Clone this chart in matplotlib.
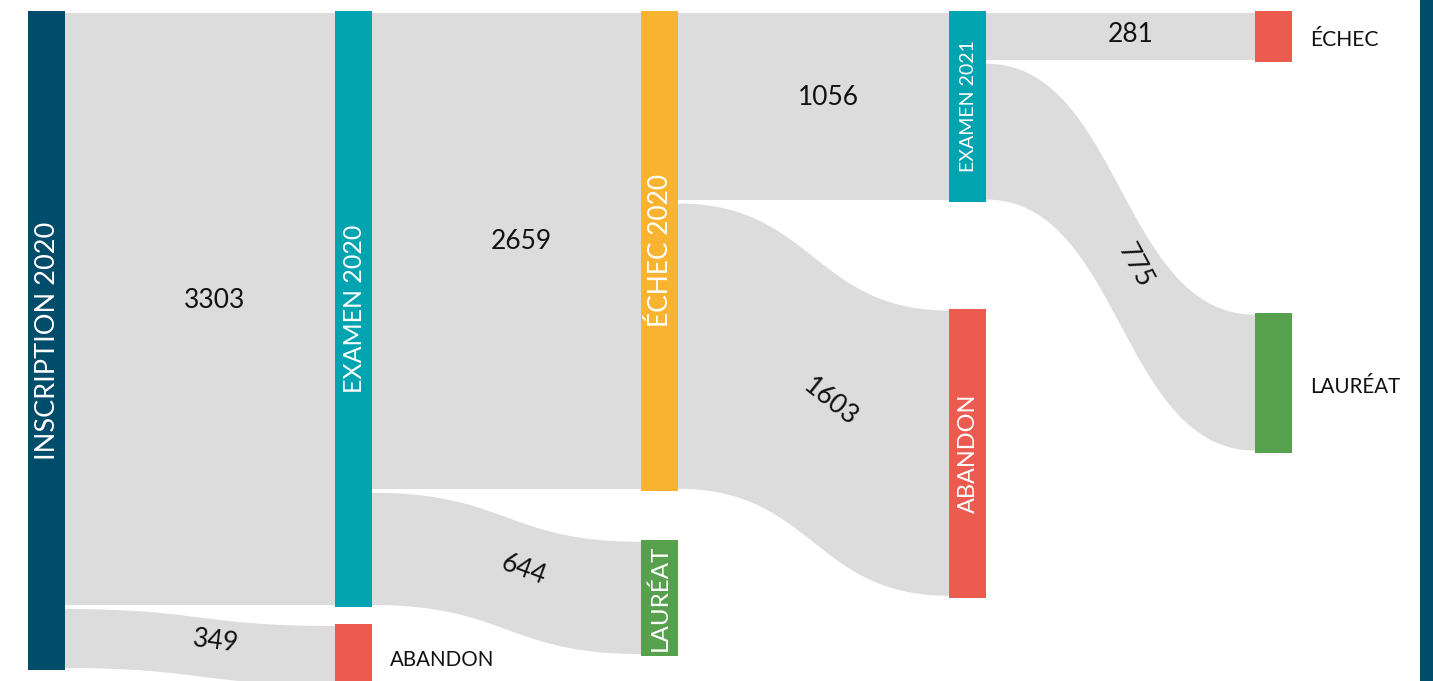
import numpy as np
import matplotlib.pyplot as plt
from matplotlib.patches import Polygon, Rectangle

# --- data ---
node_names = ["INSCRIPTION 2020", "EXAMEN 2020", "ABANDON", "ÉCHEC 2020", "LAURÉAT",
              "EXAMEN 2021", "ABANDON", "ÉCHEC", "LAURÉAT"]
node_col = [0, 1, 1, 2, 2, 3, 3, 4, 4]
link_src = [0, 0, 1, 1, 3, 3, 5, 5]
link_tgt = [1, 2, 3, 4, 5, 6, 7, 8]
link_val = [3303, 349, 2659, 644, 1056, 1603, 281, 775]

# --- layout / style ---
node_colors = ["#004c6b", "#00a3b0", "#eb5b50", "#f8b431", "#57a14e",
               "#00a3b0", "#eb5b50", "#eb5b50", "#57a14e"]
label_inside = [True, True, False, True, True, True, True, False, False]
label_size = [19.5, 18, 14.8, 18.9, 17.4, 14.1, 16.9, 15.2, 14.8]
gap_before = [0, 0, 17, 0, 49, 0, 107, 0, 251]   # vertical gap above node in its column (px)
col_x = [28, 335, 641, 949, 1255]
node_w = 37
top = 11
total = 3652
scale = 659 / total
link_color = "#dcdcdc"
font = "Lato"
value_size = 19

W, H = 1433, 681
fig = plt.figure(figsize=(W / 100, H / 100), dpi=100)
ax = fig.add_axes([0, 0, 1, 1])
ax.set_xlim(0, W)
ax.set_ylim(H, 0)
ax.axis("off")

# node values
n = len(node_names)
val_in = np.zeros(n)
val_out = np.zeros(n)
for s, t, v in zip(link_src, link_tgt, link_val):
    val_out[s] += v
    val_in[t] += v
node_val = np.maximum(val_in, val_out)

# node positions
node_y0 = np.zeros(n)
col_cursor = {}
for i in range(n):
    c = node_col[i]
    y = col_cursor.get(c, top) + gap_before[i]
    node_y0[i] = y
    col_cursor[c] = y + node_val[i] * scale
node_y1 = node_y0 + node_val * scale
node_x0 = np.array([col_x[c] for c in node_col])
node_x1 = node_x0 + node_w


def bez(x0, y0, x1, y1, t):
    xm = (x0 + x1) / 2
    x = (1 - t) ** 3 * x0 + 3 * (1 - t) ** 2 * t * xm + 3 * (1 - t) * t ** 2 * xm + t ** 3 * x1
    y = (1 - t) ** 3 * y0 + 3 * (1 - t) ** 2 * t * y0 + 3 * (1 - t) * t ** 2 * y1 + t ** 3 * y1
    return x, y


# links
src_off = node_y0.copy()
tgt_off = node_y0.copy()
t = np.linspace(0, 1, 80)
inset = 2
for s, tg, v in zip(link_src, link_tgt, link_val):
    h = v * scale
    sy0, ty0 = src_off[s], tgt_off[tg]
    src_off[s] += h
    tgt_off[tg] += h
    xa, xb = node_x1[s], node_x0[tg]
    xt, yt = bez(xa, sy0 + inset, xb, ty0 + inset, t)
    xbm, ybm = bez(xa, sy0 + h - inset, xb, ty0 + h - inset, t)
    pts = np.vstack([np.column_stack([xt, yt]), np.column_stack([xbm, ybm])[::-1]])
    ax.add_patch(Polygon(pts, closed=True, facecolor=link_color, edgecolor="none", zorder=1))

    # value label along the centre line
    cy0 = sy0 + h / 2
    cy1 = ty0 + h / 2
    mx, my = bez(xa, cy0, xb, cy1, 0.5)
    dx, dy = 0.75 * (xb - xa), 1.5 * (cy1 - cy0)
    L = np.hypot(dx, dy)
    tx, ty = dx / L, dy / L          # tangent (screen, y down)
    ux, uy = ty, -tx                 # "up" of the text
    up = min(9, h / 2 - 23.5)
    along = 15 if h > 60 else 10
    px = mx + along * tx + up * ux
    py = my + along * ty + up * uy
    ang = -np.degrees(np.arctan2(dy, dx))
    ax.text(px, py, f"{v}", ha="center", va="center", rotation=ang,
            rotation_mode="anchor", fontsize=value_size, family=font,
            color="#111111", zorder=3)

# nodes
for i in range(n):
    ax.add_patch(Rectangle((node_x0[i], node_y0[i]), node_w, node_y1[i] - node_y0[i],
                           facecolor=node_colors[i], edgecolor="none", zorder=2))
    cy = (node_y0[i] + node_y1[i]) / 2
    if label_inside[i]:
        ax.text((node_x0[i] + node_x1[i]) / 2 + 1, cy, node_names[i], rotation=90,
                ha="center", va="center", color="white", fontsize=label_size[i],
                family=font, zorder=3)
    else:
        ax.text(node_x1[i] + 18, cy + 2, node_names[i], ha="left", va="center_baseline",
                color="#111111", fontsize=label_size[i], family=font, zorder=3)

# dark band at the right edge
ax.add_patch(Rectangle((1420, 0), W - 1420, H, facecolor="#004c6b", edgecolor="none", zorder=2))

fig.savefig("out.png", dpi=100, facecolor="white")
